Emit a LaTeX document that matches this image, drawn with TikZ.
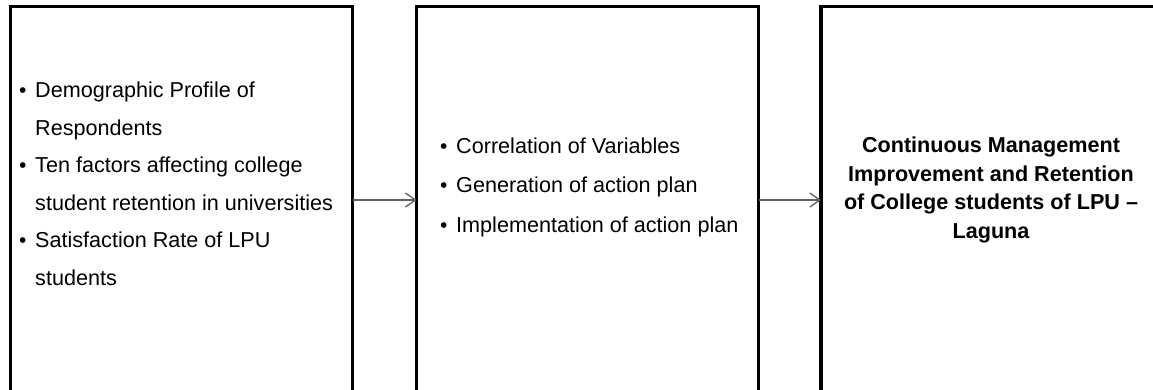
\documentclass[tikz,border=0pt]{standalone}
\usepackage{fontspec}
\setmainfont{Liberation Sans}
\usetikzlibrary{arrows.meta}
\tikzset{
  box/.style={draw=black, line width=3.3pt, fill=none, inner sep=0pt, outer sep=0pt, anchor=north west},
  arr/.style={draw=black!62, line width=1.3pt, -{Straight Barb[length=10pt,width=14pt,line width=1.3pt]}},
  listtext/.style={inner sep=0pt, align=left, anchor=north west},
}
\newcommand{\bul}{\makebox[14.5pt][l]{\hspace{-1.5pt}\fontsize{21}{21}\selectfont •}}
\newcommand{\nobul}{\makebox[14.5pt][l]{}}
\begin{document}
\begin{tikzpicture}[x=1pt,y=-1pt]
\useasboundingbox (0,0) rectangle (1153,389);
\clip (0,0) rectangle (1153,389);
\node[box, minimum width=342pt, minimum height=386.6pt] (b1) at (10.5,6.7) {};
\node[box, minimum width=342pt, minimum height=386.6pt] (b2) at (416.5,6.7) {};
\node[box, minimum width=344pt, minimum height=386.6pt] (b3) at (821,6.7) {};
\draw[arr] (b1.east) -- (b2.west);
\draw[arr] (b2.east) -- (b3.west);
\node[listtext, font=\fontsize{21.6}{37.5}\selectfont] (t1) at (20.5,82) {%
\bul Demographic Profile of\\
\nobul Respondents\\
\bul Ten factors affecting college\\
\nobul student retention in universities\\
\bul Satisfaction Rate of LPU\\
\nobul students};
\node[listtext, font=\fontsize{21.6}{39.5}\selectfont] (t2) at (441.5,137.5) {%
\bul Correlation of Variables\\
\bul Generation of action plan\\
\bul Implementation of action plan};
\node[inner sep=0pt, align=center, anchor=north, font=\bfseries\fontsize{21.6}{28.7}\selectfont] (t3) at (991,136.5) {%
Continuous Management\\
Improvement and Retention\\
of College students of LPU –\\
Laguna};
\end{tikzpicture}
\end{document}
